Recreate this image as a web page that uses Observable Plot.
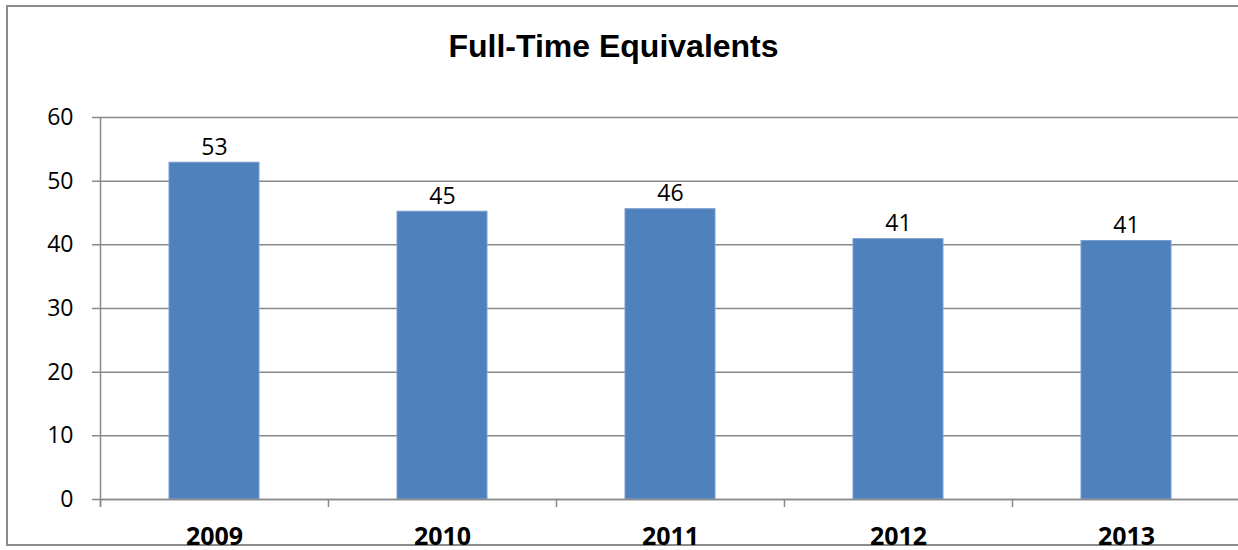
<!DOCTYPE html>
<html>
<head>
<meta charset="utf-8">
<script src="https://cdn.jsdelivr.net/npm/d3@7"></script>
<script src="https://cdn.jsdelivr.net/npm/@observablehq/plot@0.6"></script>
<style>
  html, body { margin: 0; padding: 0; background: #fff; }
  #chart { position: relative; width: 1238px; height: 550px; overflow: hidden; }
  #border { position: absolute; left: 6px; top: 5px; width: 1250px; height: 541px; border: 2px solid #8c8c8c; box-sizing: border-box; }
  #title { position: absolute; left: 0; top: 30px; width: 1227px; text-align: center;
           font: bold 32px "Liberation Sans", Arial, sans-serif; line-height: 32px; color: #000; }
  #plot { position: absolute; left: 0; top: 80px; }
</style>
</head>
<body>
<div id="chart">
  <div id="border"></div>
  <div id="title">Full-Time Equivalents</div>
  <div id="plot"></div>
</div>
<script>
// Full-time equivalents per year
const years = ["2009", "2010", "2011", "2012", "2013"];
const fte = [52.9, 45.2, 45.6, 40.9, 40.6];
const yTicks = [0, 10, 20, 30, 40, 50, 60];

const data = years.map((year, i) => ({year, fte: fte[i]}));
const fmt = d3.format(".0f");

const W = 1238, H = 470;
const left = 100, right = 1240;
const step = (right - left) / years.length;

const chart = Plot.plot({
  width: W,
  height: H,
  marginLeft: left,
  marginRight: 0,
  marginTop: 37,
  marginBottom: 51,
  style: {fontFamily: "'Open Sans', sans-serif", fontSize: "23px", color: "#000", background: "transparent", overflow: "visible"},
  x: {domain: years, range: [left, right], paddingInner: 0.605, paddingOuter: 0.3025, axis: null},
  y: {domain: [0, 60], axis: null},
  marks: [
    // horizontal gridlines with their left tick marks
    Plot.ruleY(yTicks, {y: d => d, stroke: "#8a8a8a", strokeWidth: 1.5, insetLeft: -8}),
    // vertical axis line
    Plot.ruleX([years[0]], {x: d => d, y1: 0, y2: 60, dx: -step / 2, insetTop: 8, stroke: "#8a8a8a", strokeWidth: 1.5}),
    // category boundary ticks
    Plot.ruleX(years, {x: d => d, y1: 0, y2: 0, dx: -step / 2, insetTop: 8, stroke: "#8a8a8a", strokeWidth: 1.5}),
    Plot.barY(data, {x: "year", y: "fte", fill: "#4F81BD", stroke: "#7aa0cf", strokeWidth: 1}),
    Plot.ruleY([0], {stroke: "#8a8a8a", strokeWidth: 1.5}),
    // value labels
    Plot.text(data, {x: "year", y: "fte", text: d => fmt(d.fte), lineAnchor: "bottom", dy: -8, fontSize: 23, fill: "#000"}),
    // y tick labels
    Plot.text(yTicks, {y: d => d, text: d => String(d), frameAnchor: "left", textAnchor: "end", dx: -27, fontSize: 23, fill: "#000"}),
    // category labels
    Plot.text(years, {x: d => d, text: d => d, frameAnchor: "bottom", lineAnchor: "bottom", dy: 45, fontSize: 25, fontWeight: "bold", fill: "#000"})
  ]
});

document.getElementById("plot").appendChild(chart);
</script>
</body>
</html>
